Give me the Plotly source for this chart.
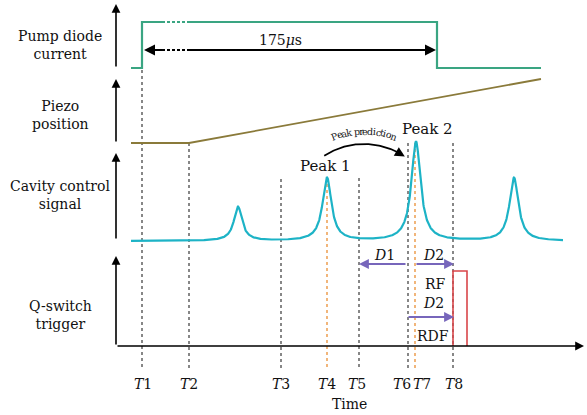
import numpy as np
import plotly.graph_objects as go

# ---- data (diagram coordinates: time axis -> x, signal level -> y, y grows downward) ----
t_marks = [142, 189, 281, 327, 359, 408, 415, 453]
t_labels = ["T1", "T2", "T3", "T4", "T5", "T6", "T7", "T8"]
t_label_pos = [143, 189, 281, 327, 357, 402, 422, 454]
t_tops = [70, 143, 179, 178, 178, 143, 143, 143]
t_orange = [False, False, False, True, False, False, True, False]

pump_t = [131, 142, 142, 162, 188, 437, 437, 541]
pump_y = [68, 68, 22, 22, 22, 22, 68, 68]

piezo_t = [131, 189, 541]
piezo_y = [143, 143, 79]

cav_start, cav_end, cav_base = 131, 563, 241
peak_t = [238, 327, 416, 514]
peak_h = [34, 63, 99, 63]
peak_w = [5.0, 5.4, 5.6, 5.4]

trig_t = [453, 453, 467, 467]
trig_y = [346, 271, 271, 346]

channel_labels = ["Pump diode<br>current", "Piezo<br>position", "Cavity control<br>signal", "Q-switch<br>trigger"]
channel_label_y = [45, 115, 195, 315]
axis_tips = [4, 79, 153, 256]
axis_bottoms = [68, 143, 240, 346]

GREEN = "#3aa582"
OLIVE = "#8a7a3a"
CYAN = "#1db3c6"
PURPLE = "#7766bb"
RED = "#d9464a"
ORANGE = "#eea45a"
GRAY = "#6a6a6a"
FONT = "DejaVu Serif"

fig = go.Figure()

# dotted time markers
for t, top, org in zip(t_marks, t_tops, t_orange):
    fig.add_trace(go.Scatter(x=[t, t], y=[top, 370], mode="lines",
                             line=dict(color=ORANGE if org else GRAY, width=1.6, dash="dot"),
                             hoverinfo="skip", showlegend=False))

# pump diode current (with break)
fig.add_trace(go.Scatter(x=pump_t[:4], y=pump_y[:4], mode="lines",
                         line=dict(color=GREEN, width=2.2), showlegend=False))
fig.add_trace(go.Scatter(x=pump_t[3:5], y=pump_y[3:5], mode="lines",
                         line=dict(color=GREEN, width=2.2, dash="3px,2px"), showlegend=False))
fig.add_trace(go.Scatter(x=pump_t[4:], y=pump_y[4:], mode="lines",
                         line=dict(color=GREEN, width=2.2), showlegend=False))

# 175 us arrow
fig.add_trace(go.Scatter(x=[150, 162], y=[50, 50], mode="lines",
                         line=dict(color="black", width=2), showlegend=False))
fig.add_trace(go.Scatter(x=[162, 188], y=[50, 50], mode="lines",
                         line=dict(color="black", width=2, dash="3px,2px"), showlegend=False))
fig.add_trace(go.Scatter(x=[188, 430], y=[50, 50], mode="lines",
                         line=dict(color="black", width=2), showlegend=False))

# piezo
fig.add_trace(go.Scatter(x=piezo_t, y=piezo_y, mode="lines",
                         line=dict(color=OLIVE, width=1.8), showlegend=False))

# cavity control signal (sum of resonance peaks)
tt = np.linspace(cav_start, cav_end, 1400)
sig = np.full_like(tt, float(cav_base))
for c, h, w in zip(peak_t, peak_h, peak_w):
    sig -= h / (1 + ((tt - c) / w) ** 2)
fig.add_trace(go.Scatter(x=tt, y=sig, mode="lines",
                         line=dict(color=CYAN, width=2.2), showlegend=False))

# Q-switch trigger
fig.add_trace(go.Scatter(x=trig_t, y=trig_y, mode="lines",
                         line=dict(color=RED, width=1.6), showlegend=False))

# peak prediction arc
cx, cy, r = 364, 217, 73
ang = np.radians(np.linspace(-33, 27, 60))
fig.add_trace(go.Scatter(x=cx + r * np.sin(ang), y=cy - r * np.cos(ang), mode="lines",
                         line=dict(color="black", width=1.8), showlegend=False))

ann = []
# axis arrows
for tip, bot in zip(axis_tips, axis_bottoms):
    ann.append(dict(x=116, y=tip, ax=116, ay=bot, xref="x", yref="y", axref="x", ayref="y",
                    text="", showarrow=True, arrowhead=2, arrowsize=1.1, arrowwidth=1.6, arrowcolor="black"))
ann.append(dict(x=584, y=346, ax=116, ay=346, xref="x", yref="y", axref="x", ayref="y",
                text="", showarrow=True, arrowhead=2, arrowsize=1.1, arrowwidth=1.6, arrowcolor="black"))
# 175us arrowheads
ann.append(dict(x=436, y=50, ax=420, ay=50, xref="x", yref="y", axref="x", ayref="y",
                text="", showarrow=True, arrowhead=2, arrowsize=1.1, arrowwidth=2, arrowcolor="black"))
ann.append(dict(x=144, y=50, ax=158, ay=50, xref="x", yref="y", axref="x", ayref="y",
                text="", showarrow=True, arrowhead=2, arrowsize=1.1, arrowwidth=2, arrowcolor="black"))
# arc arrowhead
a1 = np.radians(27); a2 = np.radians(34)
ann.append(dict(x=cx + r * np.sin(a2), y=cy - r * np.cos(a2), ax=cx + r * np.sin(a1), ay=cy - r * np.cos(a1),
                xref="x", yref="y", axref="x", ayref="y",
                text="", showarrow=True, arrowhead=2, arrowsize=1.1, arrowwidth=1.8, arrowcolor="black"))
# D arrows
for x0, x1, yy in [(407, 359, 264), (415, 454, 264), (407, 454, 317)]:
    ann.append(dict(x=x1, y=yy, ax=x0, ay=yy, xref="x", yref="y", axref="x", ayref="y",
                    text="", showarrow=True, arrowhead=2, arrowsize=1.1, arrowwidth=1.8, arrowcolor=PURPLE))

# texts
def txt(x, y, s, size=15, **kw):
    ann.append(dict(x=x, y=y, xref="x", yref="y", text=s, showarrow=False,
                    font=dict(family=FONT, size=size, color="#111"), **kw))

for lab, yy in zip(channel_labels, channel_label_y):
    txt(60, yy, lab, size=14)
for t, lab in zip(t_label_pos, t_labels):
    txt(t, 384, "<i>T</i>" + lab[1:], size=14)
txt(349, 404, "Time", size=14)
txt(280, 40, "175<i>μ</i>s", size=14)
txt(325, 166, "Peak 1", size=15)
txt(427, 129, "Peak 2", size=15)
txt(384, 255, "<i>D</i>1", size=14)
txt(433, 255, "<i>D</i>2", size=14)
txt(435, 284, "RF", size=14)
txt(433, 303, "<i>D</i>2", size=14)
txt(433, 336, "RDF", size=14)

# curved "Peak prediction"
label = "Peak prediction"
wtab = {"P": 556, "e": 444, "a": 444, "k": 500, " ": 250, "p": 500, "r": 333, "d": 500,
        "i": 278, "c": 444, "t": 278, "o": 500, "n": 500}
fs = 9.5
R = 86
widths = [wtab[ch] * 10.5 / 1000 for ch in label]
total = sum(widths)
s = -total / 2
for ch, w in zip(label, widths):
    mid = s + w / 2
    th = mid / R
    if ch != " ":
        ann.append(dict(x=cx + R * np.sin(th), y=cy - R * np.cos(th), xref="x", yref="y",
                        text=ch, showarrow=False, textangle=float(np.degrees(th)),
                        font=dict(family=FONT, size=fs, color="#111")))
    s += w

fig.update_layout(
    width=587, height=415, margin=dict(l=0, r=0, t=0, b=0),
    paper_bgcolor="white", plot_bgcolor="white",
    font=dict(family=FONT),
    xaxis=dict(range=[0, 587], visible=False, fixedrange=True),
    yaxis=dict(range=[415, 0], visible=False, fixedrange=True),
    annotations=ann, showlegend=False,
)
fig.write_html("out.html")
